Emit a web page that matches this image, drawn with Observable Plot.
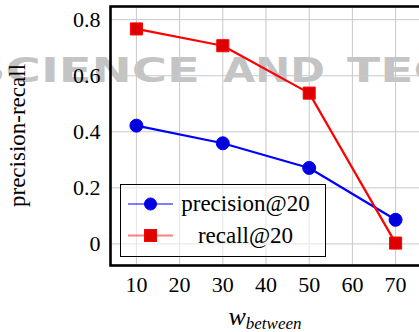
<!DOCTYPE html>
<html>
<head>
<meta charset="utf-8">
<script src="https://cdn.jsdelivr.net/npm/d3@7"></script>
<script src="https://cdn.jsdelivr.net/npm/@observablehq/plot@0.6"></script>
<style>
  html, body { margin: 0; padding: 0; background: white; overflow: hidden; }
  svg { display: block; }
</style>
</head>
<body>
<div id="chart"></div>
<script>
// ---- data ----
const wBetween = [10, 30, 50, 70];
const precision = [0.422, 0.359, 0.271, 0.086];
const recall = [0.767, 0.707, 0.538, 0.003];
const seriesNames = ["precision@20", "recall@20"];
const xTicks = [10, 20, 30, 40, 50, 60, 70];
const yTicks = [0, 0.2, 0.4, 0.6, 0.8];
const yLabel = "precision-recall";
const watermarkWords = ["SCIENCE", "AND", "TECHNOLOGY"];

const precData = wBetween.map((w, i) => ({w, v: precision[i]}));
const recData = wBetween.map((w, i) => ({w, v: recall[i]}));

const serif = "Liberation Serif";
const yFmt = d => d === 0 ? "0" : d.toFixed(1);

const chart = Plot.plot({
  width: 419,
  height: 332,
  marginLeft: 110,
  marginRight: -2,
  marginTop: 6,
  marginBottom: 67,
  style: {background: "white", overflow: "hidden", color: "black"},
  x: {domain: [4, 76], axis: null},
  y: {domain: [-0.077, 0.847], axis: null},
  marks: [
    Plot.gridX(xTicks, {stroke: "#c8c8c8", strokeOpacity: 1, strokeWidth: 1}),
    Plot.gridY(yTicks, {stroke: "#c8c8c8", strokeOpacity: 1, strokeWidth: 1}),
    Plot.text(xTicks, {x: d => d, frameAnchor: "bottom", lineAnchor: "top", dy: 11,
      text: d => String(d), fontFamily: serif, fontSize: 22, fill: "black"}),
    Plot.text(yTicks, {y: d => d, frameAnchor: "left", textAnchor: "end", dx: -10,
      text: yFmt, fontFamily: serif, fontSize: 22, fill: "black"}),
    Plot.line(precData, {x: "w", y: "v", stroke: "#0000ff", strokeWidth: 2.2}),
    Plot.dot(precData, {x: "w", y: "v", r: 6.5, fill: "#0000dd", stroke: "#0000ff", strokeWidth: 1}),
    Plot.line(recData, {x: "w", y: "v", stroke: "#ff0000", strokeWidth: 2.2}),
    Plot.dot(recData, {x: "w", y: "v", symbol: "square", r: 6.8, fill: "#dd0000", stroke: "#ff0000", strokeWidth: 1}),
    Plot.frame({stroke: "black", strokeWidth: 2.6})
  ]
});

document.getElementById("chart").appendChild(chart);

const svg = d3.select(chart);
svg.attr("overflow", "hidden");

// watermark (behind everything)
const wm = svg.insert("g", ":first-child")
  .attr("fill", "#c4c4c4")
  .attr("text-anchor", "start")
  .attr("font-weight", "bold")
  .attr("font-size", 34)
  .attr("font-family", "DejaVu Sans");
const wmSpans = [[-29, 229], [223, 102], [347, 370]];
watermarkWords.forEach((t, i) => {
  const el = wm.append("text").attr("x", 0).attr("y", 0).text(t);
  const natural = el.node().getComputedTextLength() || 1;
  el.attr("transform", `translate(${wmSpans[i][0]},82) scale(${wmSpans[i][1] / natural},1)`);
});
// white background rect beneath watermark
svg.insert("rect", ":first-child").attr("width", 419).attr("height", 332).attr("fill", "white");

// y-axis label
svg.append("text")
  .attr("transform", "translate(25,135.5) rotate(-90)")
  .attr("text-anchor", "middle")
  .attr("font-family", serif)
  .attr("font-size", 23)
  .attr("fill", "black")
  .text(yLabel);

// x-axis label w_between
const xl = svg.append("text")
  .attr("x", 265).attr("y", 325)
  .attr("text-anchor", "middle")
  .attr("font-family", serif)
  .attr("font-style", "italic")
  .attr("fill", "black");
xl.append("tspan").attr("font-size", 26).text("w");
xl.append("tspan").attr("font-size", 17).attr("dy", 4).text("between");

// legend
const lg = svg.append("g");
lg.append("rect")
  .attr("x", 120.5).attr("y", 184.5).attr("width", 205).attr("height", 72)
  .attr("fill", "white").attr("fill-opacity", 0.55)
  .attr("stroke", "black").attr("stroke-width", 1);
const legendItems = [
  {name: seriesNames[0], color: "#0000ff", fill: "#0000dd", sym: "circle", y: 204},
  {name: seriesNames[1], color: "#ff0000", fill: "#dd0000", sym: "square", y: 235.5}
];
legendItems.forEach(it => {
  lg.append("line")
    .attr("x1", 128).attr("x2", 173).attr("y1", it.y).attr("y2", it.y)
    .attr("stroke", it.color).attr("stroke-opacity", 0.5).attr("stroke-width", 2);
  if (it.sym === "circle") {
    lg.append("circle").attr("cx", 150.5).attr("cy", it.y).attr("r", 6)
      .attr("fill", it.fill).attr("stroke", it.color);
  } else {
    lg.append("rect").attr("x", 144.5).attr("y", it.y - 6).attr("width", 12).attr("height", 12)
      .attr("fill", it.fill).attr("stroke", it.color);
  }
  lg.append("text")
    .attr("x", 245.5).attr("y", it.y + 7)
    .attr("text-anchor", "middle")
    .attr("font-family", serif)
    .attr("font-size", 23)
    .attr("fill", "black")
    .text(it.name);
});
</script>
</body>
</html>
